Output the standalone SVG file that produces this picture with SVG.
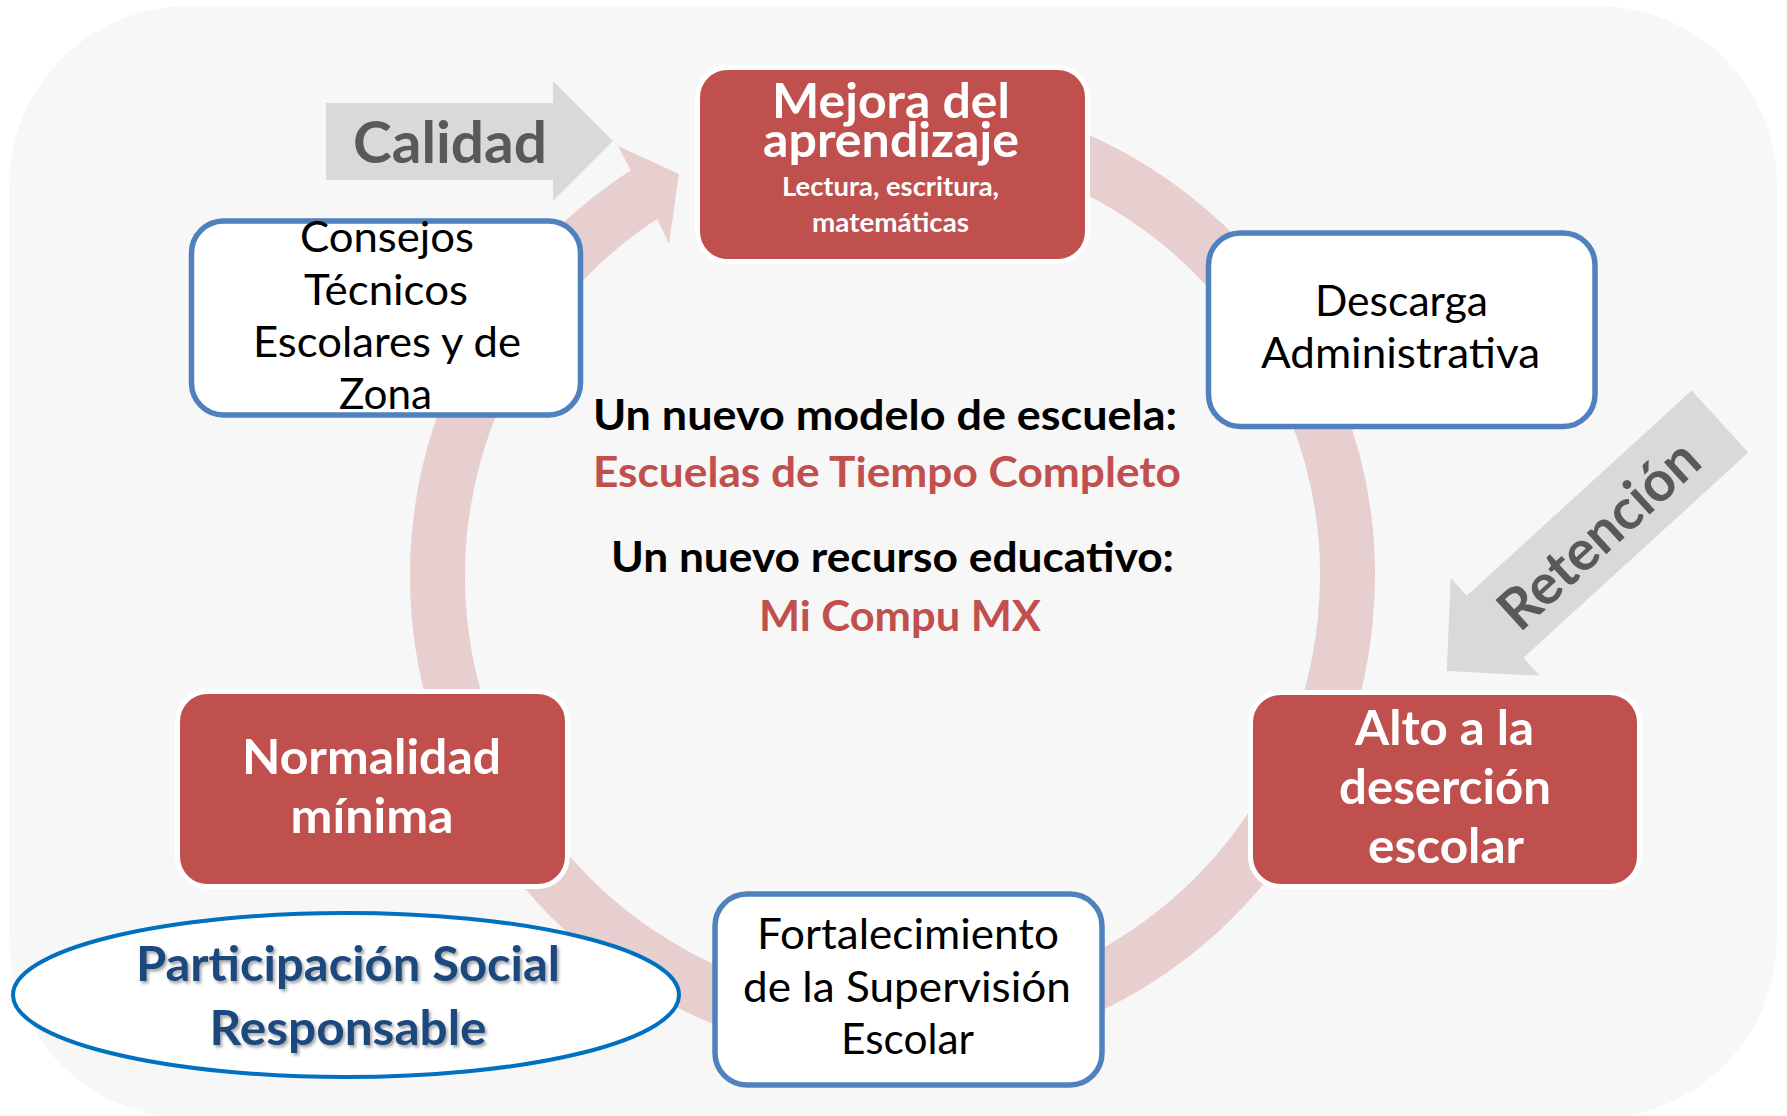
<svg xmlns="http://www.w3.org/2000/svg" width="1787" height="1116" viewBox="0 0 1787 1116">
<defs>
<style>
text{font-family:Lato,"Open Sans","Liberation Sans",sans-serif;text-anchor:middle}
.b{font-weight:bold}
.wt{fill:#ffffff;font-weight:bold}
.bk{fill:#000000}
.red{fill:#c0504d}
.redbox{fill:#c0504d;stroke:#ffffff;stroke-width:5}
.bluebox{fill:#ffffff;stroke:#4f81bd;stroke-width:5.5}
.grey{fill:#d9d9d9}
.gt{fill:#595959;font-weight:bold}
</style>
<filter id="sh" x="-10%" y="-30%" width="120%" height="160%">
<feDropShadow dx="2" dy="2.5" stdDeviation="1.5" flood-color="#000000" flood-opacity="0.35"/>
</filter>
</defs>
<rect x="0" y="0" width="1787" height="1116" fill="#ffffff"/>
<rect x="9" y="6" width="1768" height="1112" rx="180" ry="180" fill="#f7f7f7"/>

<g id="connectors">
<path d="M736.4,148.4 A455,455 0 1 1 648.4,191.8" fill="none" stroke="#e8cfcf" stroke-width="55"/>
<polygon points="631,171 618,146 679,174 669,244 657,219" fill="#e8cfcf"/>
</g>

<g id="calidad">
<polygon class="grey" points="326,103 553,103 553,81 613,141 553,201 553,180 326,180"/>
<text class="gt" x="450" y="163" font-size="56.6" textLength="194" lengthAdjust="spacingAndGlyphs">Calidad</text>
</g>

<g id="retencion">
<polygon class="grey" transform="translate(1720,421.5) rotate(137.6)" points="0,-42 304.5,-42 304.5,-66 370,0 304.5,66 304.5,42 0,42"/>
<text class="gt" transform="translate(1612,549) rotate(-42.4)" x="0" y="0" font-size="56.6" textLength="250" lengthAdjust="spacingAndGlyphs">Retención</text>
</g>

<g id="mejora">
<rect class="redbox" x="697.5" y="67.5" width="390" height="194" rx="30"/>
<text class="wt" x="891" y="118" font-size="47.6" textLength="238" lengthAdjust="spacingAndGlyphs">Mejora del</text>
<text class="wt" x="891" y="157" font-size="47.6" textLength="256" lengthAdjust="spacingAndGlyphs">aprendizaje</text>
<text class="wt" x="890.5" y="196" font-size="26" textLength="217" lengthAdjust="spacingAndGlyphs">Lectura, escritura,</text>
<text class="wt" x="890.5" y="232" font-size="26" textLength="157" lengthAdjust="spacingAndGlyphs">matemáticas</text>
</g>

<g id="consejos">
<rect class="bluebox" x="191.5" y="221" width="389" height="194" rx="32"/>
<text class="bk" x="387" y="252" font-size="43" textLength="174" lengthAdjust="spacingAndGlyphs">Consejos</text>
<text class="bk" x="386" y="305" font-size="43" textLength="164" lengthAdjust="spacingAndGlyphs">Técnicos</text>
<text class="bk" x="387" y="357" font-size="43" textLength="268" lengthAdjust="spacingAndGlyphs">Escolares y de</text>
<text class="bk" x="385.5" y="409" font-size="43" textLength="93" lengthAdjust="spacingAndGlyphs">Zona</text>
</g>

<g id="descarga">
<rect class="bluebox" x="1208.5" y="233" width="386.5" height="193.5" rx="32"/>
<text class="bk" x="1401.5" y="316" font-size="43" textLength="173" lengthAdjust="spacingAndGlyphs">Descarga</text>
<text class="bk" x="1400.5" y="368" font-size="43" textLength="279" lengthAdjust="spacingAndGlyphs">Administrativa</text>
</g>

<g id="normalidad">
<rect class="redbox" x="177.5" y="691.5" width="390" height="195" rx="30"/>
<text class="wt" x="371.5" y="774" font-size="47.3" textLength="259" lengthAdjust="spacingAndGlyphs">Normalidad</text>
<text class="wt" x="372" y="833" font-size="47.3" textLength="163" lengthAdjust="spacingAndGlyphs">mínima</text>
</g>

<g id="alto">
<rect class="redbox" x="1250.5" y="692.5" width="389" height="194" rx="30"/>
<text class="wt" x="1444.5" y="745" font-size="47.3" textLength="179" lengthAdjust="spacingAndGlyphs">Alto a la</text>
<text class="wt" x="1445" y="804" font-size="47.3" textLength="212" lengthAdjust="spacingAndGlyphs">deserción</text>
<text class="wt" x="1446" y="863" font-size="47.3" textLength="156" lengthAdjust="spacingAndGlyphs">escolar</text>
</g>

<g id="fortalecimiento">
<rect class="bluebox" x="715" y="894" width="387" height="191" rx="32"/>
<text class="bk" x="908" y="949" font-size="43" textLength="302" lengthAdjust="spacingAndGlyphs">Fortalecimiento</text>
<text class="bk" x="907" y="1002" font-size="43" textLength="328" lengthAdjust="spacingAndGlyphs">de la Supervisión</text>
<text class="bk" x="907.5" y="1054" font-size="43" textLength="133" lengthAdjust="spacingAndGlyphs">Escolar</text>
</g>

<g id="participacion">
<ellipse cx="346" cy="995" rx="333" ry="82" fill="#ffffff" stroke="#0070c0" stroke-width="4"/>
<g filter="url(#sh)">
<text class="b" fill="#1f497d" x="348" y="981" font-size="47.3" textLength="424" lengthAdjust="spacingAndGlyphs">Participación Social</text>
<text class="b" fill="#1f497d" x="348" y="1045" font-size="47.3" textLength="277" lengthAdjust="spacingAndGlyphs">Responsable</text>
</g>
</g>

<g id="centro">
<text class="b bk" x="885" y="430" font-size="42.8" textLength="584" lengthAdjust="spacingAndGlyphs">Un nuevo modelo de escuela:</text>
<text class="b red" x="887" y="487" font-size="42.8" textLength="588" lengthAdjust="spacingAndGlyphs">Escuelas de Tiempo Completo</text>
<text class="b bk" x="892.5" y="572" font-size="42.8" textLength="563" lengthAdjust="spacingAndGlyphs">Un nuevo recurso educativo:</text>
<text class="b red" x="900" y="631" font-size="42.8" textLength="282" lengthAdjust="spacingAndGlyphs">Mi Compu MX</text>
</g>
</svg>
